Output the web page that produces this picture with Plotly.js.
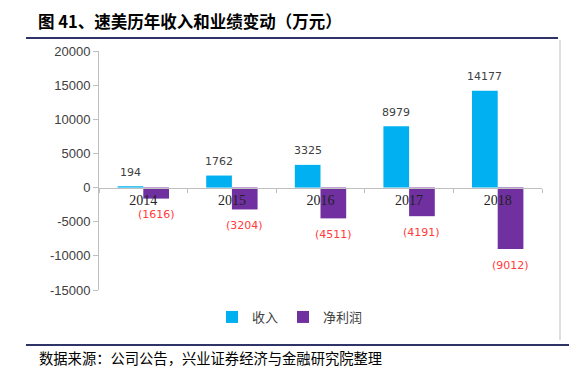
<!DOCTYPE html>
<html><head><meta charset="utf-8">
<script src="https://cdn.plot.ly/plotly-3.0.1.min.js"></script>
<style>html,body{margin:0;padding:0;background:#fff}#c{width:587px;height:375px}</style>
</head><body><div id="c"></div>
<script>
const years = ['2014','2015','2016','2017','2018'];
const revenue = [194, 1762, 3325, 8979, 14177];
const netProfit = [-1616, -3204, -4511, -4191, -9012];
const seriesNames = ['收入', '净利润'];
const yTicks = [20000, 15000, 10000, 5000, 0, -5000, -10000, -15000];

const L = 99, R = 542, T = 51, B = 290;
const W = 587, H = 375;
const px = x => (x - L) / (R - L);
const py = y => (B - y) / (B - T);
const bargap = 0.42;
const half = (R - L) / years.length * (1 - bargap) / 4; // half of one bar's width

const traces = [
  {type:'bar', x: years, y: revenue, name: seriesNames[0], marker:{color:'#00B0F0'}},
  {type:'bar', x: years, y: netProfit, name: seriesNames[1], marker:{color:'#7030A0'}}
];

const labelFont = {family:'DejaVu Sans, Verdana, sans-serif', size:11};
const annotations = [];
years.forEach((yr, i) => {
  annotations.push({x: i, y: revenue[i], xref:'x', yref:'y', showarrow:false,
    text: String(revenue[i]), xshift: -half, yshift: 14, yanchor:'middle',
    font: Object.assign({color:'#404040'}, labelFont)});
  annotations.push({x: i, y: netProfit[i], xref:'x', yref:'y', showarrow:false,
    text: '(' + Math.abs(netProfit[i]) + ')', xshift: half, yshift: -16, yanchor:'middle',
    font: Object.assign({color:'#FF3B3B'}, labelFont)});
});
annotations.push({text:'数据来源：公司公告，兴业证券经济与金融研究院整理', xref:'paper', yref:'paper',
  x:px(37), xanchor:'left', y:py(357), yanchor:'middle', showarrow:false,
  font:{family:'Noto Sans CJK SC', size:14.3, color:'#000'}});

const layout = {
  width: W, height: H,
  margin:{l:L, r:W-R, t:T, b:H-B},
  paper_bgcolor:'#fff', plot_bgcolor:'#fff',
  barmode:'group', bargap:bargap, bargroupgap:0,
  showlegend:true,
  legend:{orientation:'h', x:px(290), xanchor:'center', y:py(317), yanchor:'middle',
    font:{family:'Noto Sans CJK SC', size:13, color:'#404040'}, itemwidth:30, tracegroupgap:0},
  title:{text:'图 41、速美历年收入和业绩变动（万元）', x:38/W, xanchor:'left', xref:'container',
    y:1-22/H, yanchor:'middle', yref:'container',
    font:{family:'Noto Sans CJK SC', size:16.5, color:'#000', weight:'bold'}},
  xaxis:{type:'category', range:[-0.5, years.length - 0.5], anchor:'free', position:15000/35000,
    showline:true, linecolor:'#bfbfbf', linewidth:1,
    ticks:'outside', tickson:'boundaries', ticklen:4, tickcolor:'#bfbfbf',
    tickfont:{family:'Liberation Serif, Times New Roman, serif', size:14, color:'#222'},
    showgrid:false, zeroline:false, fixedrange:true},
  yaxis:{range:[-15000,20000], tickvals:yTicks, ticktext:yTicks.map(String),
    showline:true, linecolor:'#bfbfbf', linewidth:1,
    ticks:'outside', ticklen:5, tickcolor:'#bfbfbf',
    tickfont:{family:'Liberation Sans, Arial, sans-serif', size:13, color:'#404040'},
    showgrid:false, zeroline:false, fixedrange:true},
  shapes:[
    {type:'line', xref:'paper', yref:'paper', x0:px(26), x1:px(558), y0:py(38), y1:py(38),
     line:{color:'#2E3468', width:2}},
    {type:'line', xref:'paper', yref:'paper', x0:px(26), x1:px(569), y0:py(345), y1:py(345),
     line:{color:'#2E3468', width:2}},
    {type:'line', xref:'paper', yref:'paper', x0:px(560), x1:px(560), y0:py(40), y1:py(340),
     line:{color:'#bfbfbf', width:1}}
  ],
  annotations: annotations
};
Plotly.newPlot('c', traces, layout, {displayModeBar:false, staticPlot:true});
</script></body></html>
